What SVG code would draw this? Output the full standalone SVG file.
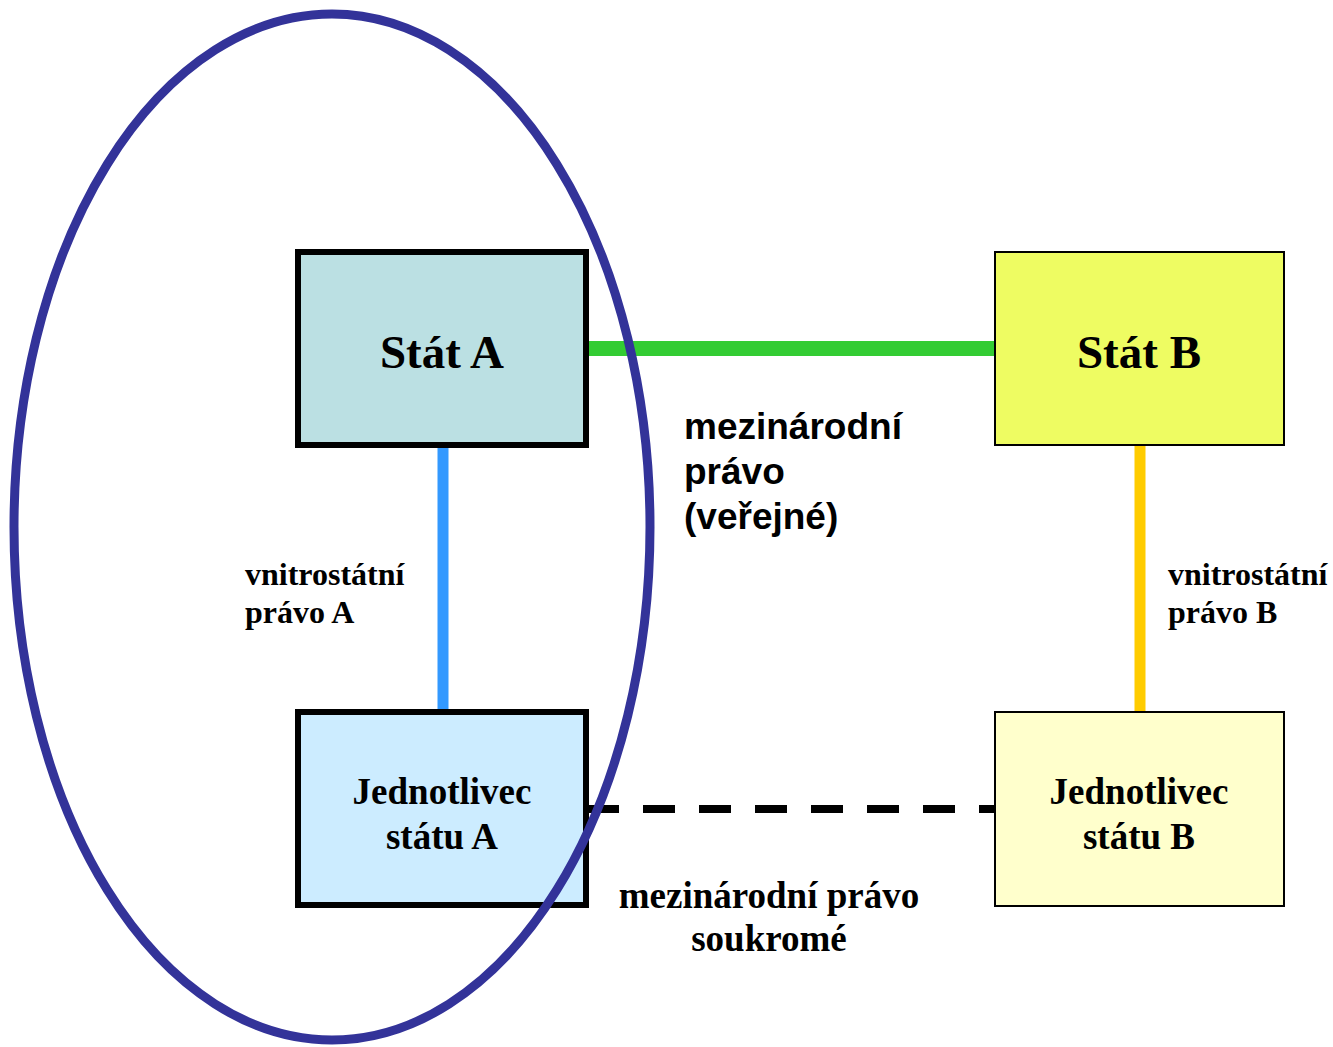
<svg xmlns="http://www.w3.org/2000/svg" width="1333" height="1047" viewBox="0 0 1333 1047">
<style>
.serif{font-family:"Liberation Serif","Times New Roman",serif;font-weight:bold;fill:#000}
.sans{font-family:"Liberation Sans",Arial,sans-serif;font-weight:bold;fill:#000}
.thick{stroke:#000;stroke-width:6}
.thin{stroke:#000;stroke-width:2}
</style>
<rect width="1333" height="1047" fill="#fff"/>
<g id="connectors" fill="none">
<line x1="589" y1="348.5" x2="995" y2="348.5" stroke="#33CC33" stroke-width="15"/>
<line x1="443" y1="448" x2="443" y2="710" stroke="#3399FF" stroke-width="11"/>
<line x1="1140" y1="446" x2="1140" y2="712" stroke="#FFCC00" stroke-width="11"/>
<line x1="587" y1="809" x2="995" y2="809" stroke="#000" stroke-width="8" stroke-dasharray="32 24"/>
</g>
<g id="statA">
<rect class="thick" x="298" y="252" width="288" height="193" fill="#BBE0E3"/>
<text class="serif" x="442" y="368" font-size="47" text-anchor="middle">Stát A</text>
</g>
<g id="statB">
<rect class="thin" x="995" y="252" width="289" height="193" fill="#EEFC62"/>
<text class="serif" x="1139" y="368" font-size="47" text-anchor="middle">Stát B</text>
</g>
<g id="jednotlivecA">
<rect class="thick" x="298" y="712" width="288" height="193" fill="#CCECFF"/>
<text class="serif" x="442" y="804" font-size="37" text-anchor="middle">Jednotlivec</text>
<text class="serif" x="442" y="849" font-size="37" text-anchor="middle">státu A</text>
</g>
<g id="jednotlivecB">
<rect class="thin" x="995" y="712" width="289" height="194" fill="#FFFFCC"/>
<text class="serif" x="1139" y="804" font-size="37" text-anchor="middle">Jednotlivec</text>
<text class="serif" x="1139" y="849" font-size="37" text-anchor="middle">státu B</text>
</g>
<g id="labels">
<text class="sans" x="684" y="439" font-size="37">mezinárodní</text>
<text class="sans" x="684" y="484" font-size="37">právo</text>
<text class="sans" x="684" y="529" font-size="37">(veřejné)</text>
<text class="serif" x="245" y="585" font-size="32">vnitrostátní</text>
<text class="serif" x="245" y="623" font-size="32">právo A</text>
<text class="serif" x="1168" y="585" font-size="32">vnitrostátní</text>
<text class="serif" x="1168" y="623" font-size="32">právo B</text>
<text class="serif" x="769" y="908" font-size="37" text-anchor="middle">mezinárodní právo</text>
<text class="serif" x="769" y="951" font-size="37" text-anchor="middle">soukromé</text>
</g>
<g id="ellipseA">
<ellipse cx="332" cy="527" rx="318" ry="513" fill="none" stroke="#333399" stroke-width="9"/>
</g>
</svg>
